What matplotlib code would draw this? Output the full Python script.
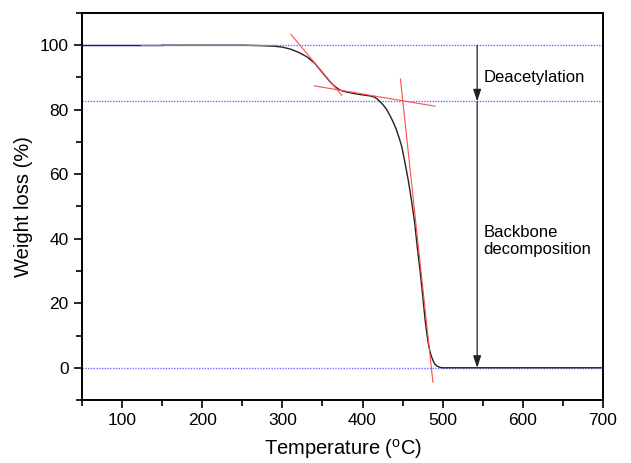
import numpy as np
import matplotlib
matplotlib.use('Agg')
import matplotlib.pyplot as plt

plt.rcParams['font.family'] = ['Liberation Sans', 'DejaVu Sans']
plt.rcParams['mathtext.fontset'] = 'custom'
plt.rcParams['mathtext.rm'] = 'Liberation Sans'

# TGA curve
temp = [50, 100, 150, 200, 250, 270, 290, 300, 310, 320, 330, 340, 350, 360, 365,
        370, 375, 380, 390, 400, 409, 414, 418, 422, 426, 430, 434, 438, 442,
        446, 449, 453, 457, 461, 465, 468, 472, 475, 478, 480, 482, 484, 486,
        488, 490, 493, 497, 500, 550, 600, 700]
weight = [100, 100, 100, 100, 100, 99.9, 99.7, 99.4, 98.8, 97.8, 96.5, 94.5, 91.5,
          88.5, 87.3, 86.4, 85.8, 85.5, 85.0, 84.6, 84.3, 84.0, 83.4, 82.5, 81.4,
          80.1, 78.3, 76.3, 74.0, 71.0, 68.5, 63.5, 58.2, 52.0, 45.0, 38.0, 29.5,
          22.5, 15.0, 11.0, 7.6, 5.2, 3.5, 2.2, 1.2, 0.5, 0.1, 0, 0, 0, 0]

# tangent construction lines (x pairs, y pairs)
tangents = [([124, 291], [100, 100]),
            ([310.8, 374], [103.3, 84.5]),
            ([339.8, 490.3], [87.4, 81.1]),
            ([447.3, 487.8], [89.5, -4.5])]

levels = [100, 82.6, 0]
arrow_x = 543

fig = plt.figure(figsize=(6.31, 4.63), dpi=100)
ax = fig.add_axes([0.13, 0.136, 0.8256, 0.836])

for lv in levels:
    ax.axhline(lv, color='#6a6aff', lw=1.0, ls=(0, (1, 1)), zorder=1)

ax.plot(temp[:3], weight[:3], color='#1a1a6a', lw=1.0, zorder=3)
ax.plot(temp[2:], weight[2:], color='#222222', lw=1.0, zorder=3)
for tx, ty in tangents:
    ax.plot(tx, ty, color='#ff4d4d', lw=0.8, zorder=4)

arrow_style = dict(arrowstyle='-|>,head_length=0.6,head_width=0.2', color='#222222',
                   lw=0.9, mutation_scale=12, shrinkA=0, shrinkB=0)
ax.annotate('', xy=(arrow_x, levels[1]), xytext=(arrow_x, levels[0]),
            arrowprops=arrow_style)
ax.annotate('', xy=(arrow_x, levels[2]), xytext=(arrow_x, levels[1]),
            arrowprops=arrow_style)

ax.text(550.5, 90, 'Deacetylation', fontsize=12, va='center', ha='left')
ax.text(550.5, 39.3, 'Backbone\ndecomposition', fontsize=12, va='center',
        ha='left', linespacing=1.1)

ax.set_xlim(50, 700)
ax.set_ylim(-10, 110)
ax.set_xticks([100, 200, 300, 400, 500, 600, 700])
ax.set_xticks(np.arange(50, 701, 50), minor=True)
ax.set_yticks([0, 20, 40, 60, 80, 100])
ax.set_yticks(np.arange(-10, 111, 10), minor=True)
ax.tick_params(which='major', direction='out', length=6, width=1.2, labelsize=12.5)
ax.tick_params(which='minor', direction='out', length=4, width=1.2)
for sp in ax.spines.values():
    sp.set_linewidth(1.4)

ax.set_xlabel('Temperature ($^{\\mathrm{o}}$C)', fontsize=14.5, labelpad=6)
ax.set_ylabel('Weight loss (%)', fontsize=14.5, labelpad=5)

fig.savefig('out.png', dpi=100)
